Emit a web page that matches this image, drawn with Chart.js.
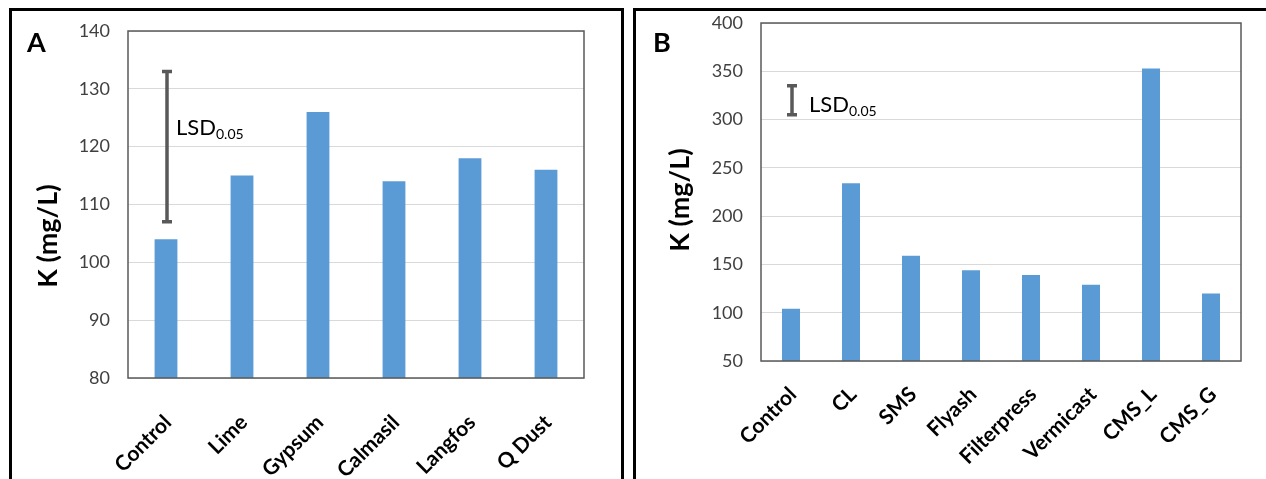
<!DOCTYPE html>
<html>
<head>
    <title>K (mg/L)</title>
    <script src="https://cdn.jsdelivr.net/npm/chart.js"></script>
    <style>
        body {
            margin: 0;
            background: #fff;
            width: 1266px;
            height: 479px;
            overflow: hidden;
            position: relative;
        }
        .panel {
            position: absolute;
            top: 8px;
            height: 520px;
            box-sizing: border-box;
            border: 3px solid #000;
            background: #fff;
        }
        #panelA { left: 9px; width: 615px; }
        #panelB { left: 633px; width: 660px; }
        .panel canvas { position: absolute; left: 0; top: 0; }
    </style>
</head>
<body>
    <div class="panel" id="panelA"><canvas id="chartA" width="609" height="468"></canvas></div>
    <div class="panel" id="panelB"><canvas id="chartB" width="630" height="468"></canvas></div>

    <script>
        // 数据
        const labelsA = ['Control', 'Lime', 'Gypsum', 'Calmasil', 'Langfos', 'Q Dust'];
        const valuesA = [104, 115, 126, 114, 118, 116];
        const lsdA = [107, 133];

        const labelsB = ['Control', 'CL', 'SMS', 'Flyash', 'Filterpress', 'Vermicast', 'CMS_L', 'CMS_G'];
        const valuesB = [104, 234, 159, 144, 139, 129, 353, 120];
        const lsdB = [305, 335];

        Chart.defaults.font.family = 'Lato, "Liberation Sans", sans-serif';

        // 外框、LSD、文字
        const decor = {
            id: 'decor',
            afterDraw(chart, args, o) {
                const { ctx, chartArea: a, scales: { x, y } } = chart;
                ctx.save();
                ctx.strokeStyle = '#595959';
                ctx.lineWidth = 1.5;
                ctx.strokeRect(a.left, a.top, a.right - a.left, a.bottom - a.top);

                // LSD 误差线
                const bx = x.getPixelForTick(0) + 1;
                const y0 = y.getPixelForValue(o.lsd[0]);
                const y1 = y.getPixelForValue(o.lsd[1]);
                ctx.lineWidth = 3.5;
                ctx.beginPath();
                ctx.moveTo(bx, y0); ctx.lineTo(bx, y1);
                ctx.moveTo(bx - 5, y0); ctx.lineTo(bx + 5, y0);
                ctx.moveTo(bx - 5, y1); ctx.lineTo(bx + 5, y1);
                ctx.stroke();

                ctx.fillStyle = '#000';
                ctx.textBaseline = 'alphabetic';
                ctx.textAlign = 'left';
                ctx.font = '22px Lato';
                ctx.fillText('LSD', o.lsdText[0], o.lsdText[1]);
                const w = ctx.measureText('LSD').width;
                ctx.font = '14px Lato';
                ctx.fillText('0.05', o.lsdText[0] + w, o.lsdText[1] + 4);

                // 面板字母
                ctx.font = 'bold 27px Lato';
                ctx.fillText(o.letter, o.letterPos[0], o.letterPos[1]);

                // Y 轴标题
                ctx.translate(o.titlePos[0], o.titlePos[1]);
                ctx.rotate(-Math.PI / 2);
                ctx.textAlign = 'center';
                ctx.textBaseline = 'middle';
                ctx.font = 'bold 27px Lato';
                ctx.fillText('K (mg/L)', 0, 0);
                ctx.restore();
            }
        };

        function makeChart(id, labels, values, yMin, yMax, step, yWidth, xHeight, pad, extra) {
            return new Chart(document.getElementById(id), {
                type: 'bar',
                data: {
                    labels: labels,
                    datasets: [{
                        data: values,
                        backgroundColor: '#5B9BD5',
                        borderWidth: 0,
                        categoryPercentage: 1,
                        barPercentage: 0.3
                    }]
                },
                options: {
                    responsive: false,
                    animation: false,
                    layout: { padding: pad },
                    scales: {
                        x: {
                            grid: { display: false },
                            border: { display: false },
                            ticks: {
                                color: '#000',
                                font: { size: 21, weight: 'bold' },
                                maxRotation: 45,
                                minRotation: 45,
                                padding: extra.xPad,
                                labelOffset: 2,
                                autoSkip: false
                            },
                            afterFit: s => { s.height = xHeight; }
                        },
                        y: {
                            min: yMin,
                            max: yMax,
                            grid: { color: '#d9d9d9', drawTicks: false },
                            border: { display: false },
                            ticks: {
                                stepSize: step,
                                color: '#404040',
                                font: { size: 18 },
                                padding: 18
                            },
                            afterFit: s => {
                                s.width = yWidth;
                                s.paddingTop = 0;
                                s.paddingBottom = 0;
                            }
                        }
                    },
                    plugins: {
                        legend: { display: false },
                        tooltip: { enabled: false },
                        decor: extra
                    }
                },
                plugins: [decor]
            });
        }

        makeChart('chartA', labelsA, valuesA, 80, 140, 10, 116, 101,
            { top: 20, right: 37, left: 0, bottom: 0 },
            { lsd: lsdA, lsdText: [164, 124], letter: 'A', letterPos: [15, 41], titlePos: [36, 225], xPad: 24 });

        makeChart('chartB', labelsB, valuesB, 50, 400, 50, 125, 118,
            { top: 12, right: 25, left: 0, bottom: 0 },
            { lsd: lsdB, lsdText: [173, 101], letter: 'B', letterPos: [17, 41], titlePos: [44, 189], xPad: 13 });
    </script>
</body>
</html>
